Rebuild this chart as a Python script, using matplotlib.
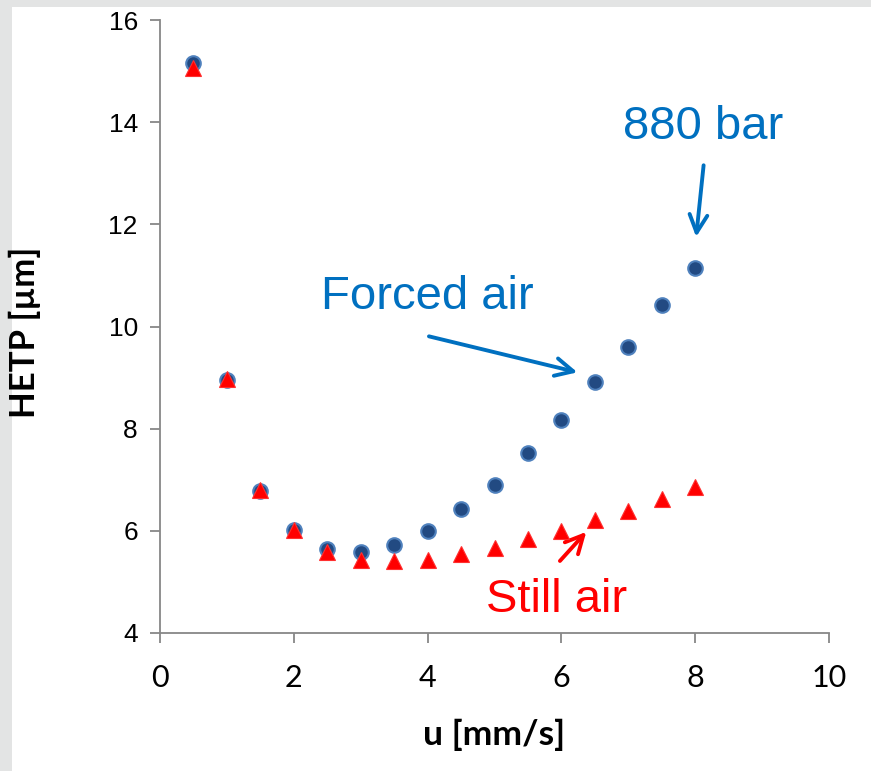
from matplotlib import pyplot as plt
from matplotlib.patches import Rectangle

# flow velocity u [mm/s]
u = [0.5, 1, 1.5, 2, 2.5, 3, 3.5, 4, 4.5, 5, 5.5, 6, 6.5, 7, 7.5, 8]

# HETP [um], forced air
forced = [15.15, 8.96, 6.78, 6.02, 5.64, 5.59, 5.72, 6.0,
          6.43, 6.9, 7.53, 8.16, 8.92, 9.6, 10.42, 11.15]

# HETP [um], still air
still = [15.06, 8.98, 6.8, 6.02, 5.59, 5.43, 5.4, 5.42,
         5.55, 5.66, 5.84, 6.0, 6.22, 6.38, 6.62, 6.86]

xticks = [0, 2, 4, 6, 8, 10]
yticks = [4, 6, 8, 10, 12, 14, 16]

blue_txt = "#0070c0"
red = "#ff0000"
axis_grey = "#878787"

fig = plt.figure(figsize=(8.71, 7.71), dpi=100, facecolor="#e3e4e4")
# white slide panel over the grey frame
panel = Rectangle((12 / 871, 0), 1, 1 - 7 / 771,
                  transform=fig.transFigure, facecolor="white",
                  edgecolor="none", zorder=-10)
fig.add_artist(panel)

ax = fig.add_axes([160 / 871, 1 - 633 / 771, 669 / 871, 613 / 771])
ax.set_facecolor("none")

ax.plot(u, forced, linestyle="none", marker="o", markersize=10.5,
        markerfacecolor="#224a82", markeredgecolor="#4f81bd",
        markeredgewidth=1.5, zorder=3)
ax.plot(u, still, linestyle="none", marker="^", markersize=12,
        markerfacecolor=red, markeredgecolor="#ff3030",
        markeredgewidth=0.8, zorder=4)

ax.set_xlim(0, 10)
ax.set_ylim(4, 16)

for side in ["top", "right"]:
    ax.spines[side].set_visible(False)
for side in ["left", "bottom"]:
    ax.spines[side].set_color(axis_grey)
    ax.spines[side].set_linewidth(1.3)

ax.set_xticks(xticks)
ax.set_yticks(yticks)
ax.set_xticklabels([str(t) for t in xticks], family="Lato", fontsize=22)
ax.set_yticklabels([str(t) for t in yticks], family="Liberation Sans",
                   fontsize=19)
ax.tick_params(axis="both", direction="out", length=7, width=1.3,
               color=axis_grey)
ax.tick_params(axis="x", pad=15)
ax.tick_params(axis="y", pad=9)

ax.set_xlabel("u [mm/s]", family="Lato", fontweight="bold", fontsize=25.5)
ax.set_ylabel("HETP [µm]", family="Lato", fontweight="bold", fontsize=25)
ax.yaxis.set_label_coords(-0.178, 0.49)
ax.xaxis.set_label_coords(0.5, -0.14)

# annotations
ax.text(3.99, 10.58, "Forced air", color=blue_txt, fontsize=34,
        family="Liberation Sans", ha="center", va="center")
ax.annotate("", xy=(6.28, 9.09), xytext=(3.98, 9.82),
            arrowprops=dict(arrowstyle="->", color=blue_txt, lw=2.8,
                            mutation_scale=32))

ax.text(8.12, 13.91, "880 bar", color=blue_txt, fontsize=34,
        family="Liberation Sans", ha="center", va="center")
ax.annotate("", xy=(8.01, 11.70), xytext=(8.13, 13.21),
            arrowprops=dict(arrowstyle="->", color=blue_txt, lw=2.8,
                            mutation_scale=32))

ax.text(5.93, 4.65, "Still air", color=red, fontsize=34,
        family="Liberation Sans", ha="center", va="center")
ax.annotate("", xy=(6.40, 6.02), xytext=(5.95, 5.37),
            arrowprops=dict(arrowstyle="->", color=red, lw=2.8,
                            mutation_scale=32))

fig.savefig("out.png", dpi=100, facecolor=fig.get_facecolor())
